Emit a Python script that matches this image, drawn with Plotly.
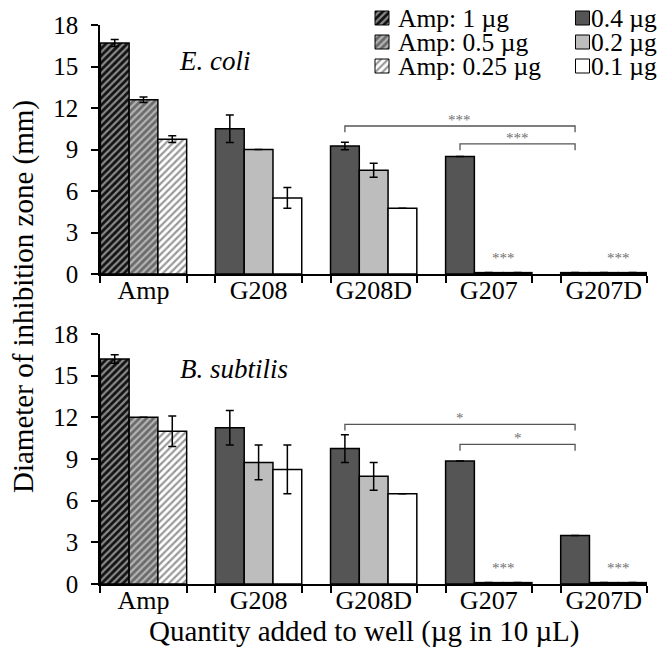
import plotly.graph_objects as go

# ---------------- data ----------------
categories = ["Amp", "G208", "G208D", "G207", "G207D"]
compounds = ["G208", "G208D", "G207", "G207D"]
amp_labels = ["Amp: 1 µg", "Amp: 0.5 µg", "Amp: 0.25 µg"]
dose_labels = ["0.4 µg", "0.2 µg", "0.1 µg"]

# E. coli (top panel)
ecoli_amp = [16.7, 12.6, 9.75]
ecoli_amp_err = [0.25, 0.2, 0.25]
ecoli_04 = [10.5, 9.25, 8.5, 0.1]
ecoli_04_err = [1.0, 0.27, None, None]
ecoli_02 = [9.0, 7.5, 0.1, 0.1]
ecoli_02_err = [None, 0.5, None, None]
ecoli_01 = [5.5, 4.75, 0.1, 0.1]
ecoli_01_err = [0.75, None, None, None]

# B. subtilis (bottom panel)
bsub_amp = [16.2, 12.0, 11.0]
bsub_amp_err = [0.3, None, 1.1]
bsub_04 = [11.25, 9.75, 8.85, 3.5]
bsub_04_err = [1.25, 1.0, None, None]
bsub_02 = [8.75, 7.75, 0.1, 0.1]
bsub_02_err = [1.25, 1.0, None, None]
bsub_01 = [8.25, 6.5, 0.1, 0.1]
bsub_01_err = [1.75, None, None, None]

# significance brackets: (from group, to group, level, label)
ecoli_brackets = [("G208D", "G207D", 10.7, "***"), ("G207", "G207D", 9.4, "***")]
bsub_brackets = [("G208D", "G207D", 11.5, "*"), ("G207", "G207D", 10.05, "*")]
zero_marks = [("G207", "***"), ("G207D", "***")]

y_ticks = [0, 3, 6, 9, 12, 15, 18]

# ---------------- styles ----------------
FONT = "Liberation Serif, Times New Roman, serif"
amp_styles = [
    dict(bg="#111111", fg="#8a8a8a"),
    dict(bg="#6a6a6a", fg="#b4b4b4"),
    dict(bg="#ffffff", fg="#9a9a9a"),
]
dose_colors = ["#555555", "#bdbdbd", "#ffffff"]
BAR_W = 0.25
offsets = [-0.375, -0.125, 0.125]

# plot-area geometry (pixels); the page body adds an 8px offset
OFF = 8
W, H = 666, 659
L, R, T, B = 100 - OFF, 666 - 647 + OFF, 0, 659 - 584 + OFF
PW, PH = W - L - R, H - T - B


def fx(px):
    return (px - OFF - L) / PW


def fy(py):
    return (H - B - (py - OFF)) / PH


fig = go.Figure()

idx = {c: i for i, c in enumerate(categories)}


def add_panel(xa, ya, amp, amp_err, doses, dose_errs):
    for k in range(3):
        st = amp_styles[k]
        fig.add_trace(go.Bar(
            x=[idx["Amp"]], y=[amp[k]], width=BAR_W, offset=offsets[k],
            xaxis=xa, yaxis=ya, showlegend=False,
            marker=dict(color=st["bg"], line=dict(color="black", width=1.5),
                        pattern=dict(shape="/", bgcolor=st["bg"], fgcolor=st["fg"],
                                     fillmode="replace", size=5, solidity=0.45)),
            error_y=dict(type="data", array=[amp_err[k]], color="black",
                         thickness=1.5, width=4, visible=True),
        ))
    for k in range(3):
        fig.add_trace(go.Bar(
            x=[idx[c] for c in compounds], y=doses[k], width=BAR_W, offset=offsets[k],
            xaxis=xa, yaxis=ya, showlegend=False,
            marker=dict(color=dose_colors[k], line=dict(color="black", width=1.5)),
            error_y=dict(type="data", array=dose_errs[k], color="black",
                         thickness=1.5, width=4, visible=True),
        ))


add_panel("x", "y", ecoli_amp, ecoli_amp_err,
          [ecoli_04, ecoli_02, ecoli_01], [ecoli_04_err, ecoli_02_err, ecoli_01_err])
add_panel("x2", "y2", bsub_amp, bsub_amp_err,
          [bsub_04, bsub_02, bsub_01], [bsub_04_err, bsub_02_err, bsub_01_err])

shapes = []
annotations = []


def add_sig(xr, yr, brackets):
    for a, b, lvl, lab in brackets:
        x0 = idx[a] + offsets[0] + BAR_W / 2
        x1 = idx[b] + offsets[0] + BAR_W / 2
        d = 0.45
        shapes.append(dict(type="path", xref=xr, yref=yr,
                           path=f"M {x0},{lvl-d} L {x0},{lvl} L {x1},{lvl} L {x1},{lvl-d}",
                           line=dict(color="#555555", width=1.3)))
        annotations.append(dict(x=(x0 + x1) / 2, y=lvl, xref=xr, yref=yr, text=lab,
                                showarrow=False, yanchor="bottom", yshift=-4,
                                font=dict(family=FONT, size=15, color="#707070")))
    for g, lab in zero_marks:
        xc = idx[g] + offsets[1] + BAR_W
        annotations.append(dict(x=xc, y=0, xref=xr, yref=yr, text=lab,
                                showarrow=False, yanchor="bottom", yshift=6,
                                font=dict(family=FONT, size=15, color="#707070")))


add_sig("x", "y", ecoli_brackets)
add_sig("x2", "y2", bsub_brackets)

annotations.append(dict(x=0.613, y=15.4, xref="x", yref="y", text="<i>E. coli</i>",
                        showarrow=False, font=dict(family=FONT, size=27, color="black")))
annotations.append(dict(x=0.786, y=15.5, xref="x2", yref="y2", text="<i>B. subtilis</i>",
                        showarrow=False, font=dict(family=FONT, size=27, color="black")))

# axis titles
annotations.append(dict(x=fx(23), y=fy(297), xref="paper", yref="paper",
                        xanchor="center", yanchor="middle",
                        text="Diameter of inhibition zone (mm)", textangle=-90,
                        showarrow=False, font=dict(family=FONT, size=29, color="black")))
annotations.append(dict(x=fx(364), y=fy(631), xref="paper", yref="paper",
                        xanchor="center", yanchor="middle",
                        text="Quantity added to well (µg in 10 µL)",
                        showarrow=False, font=dict(family=FONT, size=29, color="black")))

# ---------------- legend (drawn on a pixel-coordinate helper axis) ----------------
leg_rows = [18, 42, 66]
leg_sw_x = [382, 582.5]
leg_txt_x = [396, 589]
SW = 14
legend_entries = []
for r in range(3):
    st = amp_styles[r]
    legend_entries.append((0, r, amp_labels[r],
                           dict(color=st["bg"], line=dict(color="black", width=1),
                                pattern=dict(shape="/", bgcolor=st["bg"], fgcolor=st["fg"],
                                             fillmode="replace", size=5, solidity=0.45))))
for r in range(3):
    legend_entries.append((1, r, dose_labels[r],
                           dict(color=dose_colors[r], line=dict(color="black", width=1))))
for col, row, lab, mk in legend_entries:
    fig.add_trace(go.Bar(x=[leg_sw_x[col]], y=[SW], base=[leg_rows[row] - SW / 2],
                         width=SW, xaxis="x3", yaxis="y3", showlegend=False,
                         marker=mk, hoverinfo="skip"))
    annotations.append(dict(x=leg_txt_x[col], y=leg_rows[row], xref="x3", yref="y3",
                            text=lab, showarrow=False, xanchor="left", yanchor="middle",
                            font=dict(family=FONT, size=25.5, color="black")))

edges = []
for i in range(len(categories)):
    edges += [i + offsets[0], i + offsets[2] + BAR_W]

xcommon = dict(range=[-0.378, 4.375], showline=True, linecolor="black", linewidth=1.5,
               tickmode="array", tickvals=list(range(len(categories))), ticktext=categories,
               ticks="", showgrid=False, zeroline=False, automargin=False,
               ticklabelstandoff=-8,
               tickfont=dict(family=FONT, size=26, color="black"),
               minor=dict(tickmode="array", tickvals=edges, ticks="outside", ticklen=7,
                          tickwidth=1.5, tickcolor="black", showgrid=False))
ycommon = dict(range=[0, 18], showline=True, linecolor="black", linewidth=1.5,
               tickmode="array", tickvals=y_ticks, ticks="outside", ticklen=7, tickwidth=1.5,
               tickcolor="black", showgrid=False, zeroline=False, automargin=False,
               ticklabelstandoff=8,
               tickfont=dict(family=FONT, size=25, color="black"))

fig.update_layout(
    width=W, height=H, autosize=False,
    margin=dict(l=L, r=R, t=T, b=B, pad=0, autoexpand=False),
    paper_bgcolor="white", plot_bgcolor="rgba(0,0,0,0)",
    barmode="overlay", showlegend=False,
    xaxis=dict(domain=[0, 1], anchor="y", **xcommon),
    yaxis=dict(domain=[fy(274), fy(25)], anchor="x", **ycommon),
    xaxis2=dict(domain=[0, 1], anchor="y2", **xcommon),
    yaxis2=dict(domain=[0, fy(334)], anchor="x2", **ycommon),
    xaxis3=dict(domain=[0, 1], anchor="y3", range=[L + OFF, W - R + OFF],
                visible=False, fixedrange=True),
    yaxis3=dict(domain=[0, 1], anchor="x3", range=[H - B + OFF, T + OFF],
                visible=False, fixedrange=True),
    shapes=shapes, annotations=annotations,
    font=dict(family=FONT, color="black"),
)

fig.write_html("out.html")
